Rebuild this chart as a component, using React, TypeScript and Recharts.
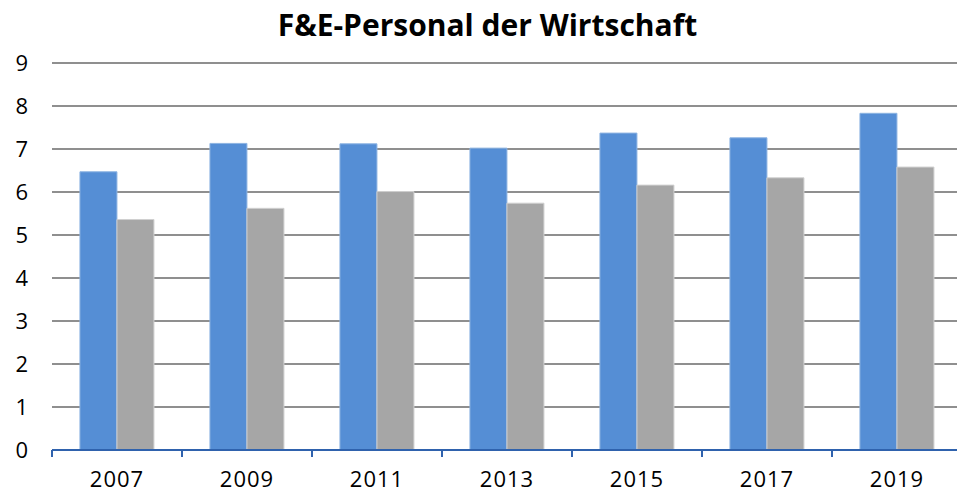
import React from "react";
import { BarChart, Bar, XAxis, YAxis, CartesianGrid } from "recharts";

// values
const years = ["2007", "2009", "2011", "2013", "2015", "2017", "2019"];
const seriesBlue = [6.47, 7.13, 7.12, 7.02, 7.37, 7.26, 7.83];
const seriesGray = [5.36, 5.62, 6.01, 5.74, 6.16, 6.33, 6.58];
const yTicks = [0, 1, 2, 3, 4, 5, 6, 7, 8, 9];

const data = years.map((year, i) => ({
  year,
  blue: seriesBlue[i],
  gray: seriesGray[i],
}));

const FONT = `"Open Sans", "Noto Sans", sans-serif`;
const CHART_W = 975;
const CHART_H = 493;
const HALF_BAND = 65; // half category width, for the boundary tick marks

// x tick: label under the category plus Excel-style ticks at category borders
function YearTick(props: any) {
  const { x, y, payload, index } = props;
  const last = index === years.length - 1;
  return (
    <g>
      <line x1={x - HALF_BAND} x2={x - HALF_BAND} y1={y - 8} y2={y - 1} stroke="#2f62ad" strokeWidth={2} />
      {last && (
        <line x1={x + HALF_BAND} x2={x + HALF_BAND} y1={y - 8} y2={y - 1} stroke="#2f62ad" strokeWidth={2} />
      )}
      <text x={x} y={y + 29} textAnchor="middle" fill="#000" fontSize={22} fontFamily={FONT} letterSpacing={1}>
        {payload.value}
      </text>
    </g>
  );
}

export default function App() {
  return (
    <div
      style={{
        position: "absolute",
        left: 0,
        top: 0,
        width: 957,
        height: 493,
        overflow: "hidden",
        background: "#fff",
      }}
    >
      <div
        style={{
          position: "absolute",
          left: 0,
          top: 5,
          width: CHART_W,
          textAlign: "center",
          fontFamily: FONT,
          fontWeight: 700,
          fontSize: 30,
          lineHeight: "40px",
          color: "#000",
        }}
      >
        F&amp;E-Personal der Wirtschaft
      </div>
      <BarChart
        width={CHART_W}
        height={CHART_H}
        data={data}
        margin={{ top: 63, right: 13, bottom: 0, left: 0 }}
        barCategoryGap="21.5%"
        barGap={0}
      >
        <CartesianGrid vertical={false} stroke="#8f8f8f" strokeWidth={2} />
        <XAxis
          dataKey="year"
          height={43}
          axisLine={{ stroke: "#2f62ad", strokeWidth: 2 }}
          tickLine={false}
          tick={<YearTick />}
          interval={0}
        />
        <YAxis
          width={52}
          domain={[0, 9]}
          ticks={yTicks}
          axisLine={false}
          tickLine={false}
          tickSize={0}
          tickMargin={24}
          tick={{ fill: "#000", fontSize: 22, fontFamily: FONT }}
        />
        <Bar dataKey="blue" fill="#558ed5" stroke="#8db4e2" strokeWidth={1} isAnimationActive={false} />
        <Bar dataKey="gray" fill="#a6a6a6" stroke="#d0d0d0" strokeWidth={1} isAnimationActive={false} />
      </BarChart>
    </div>
  );
}
